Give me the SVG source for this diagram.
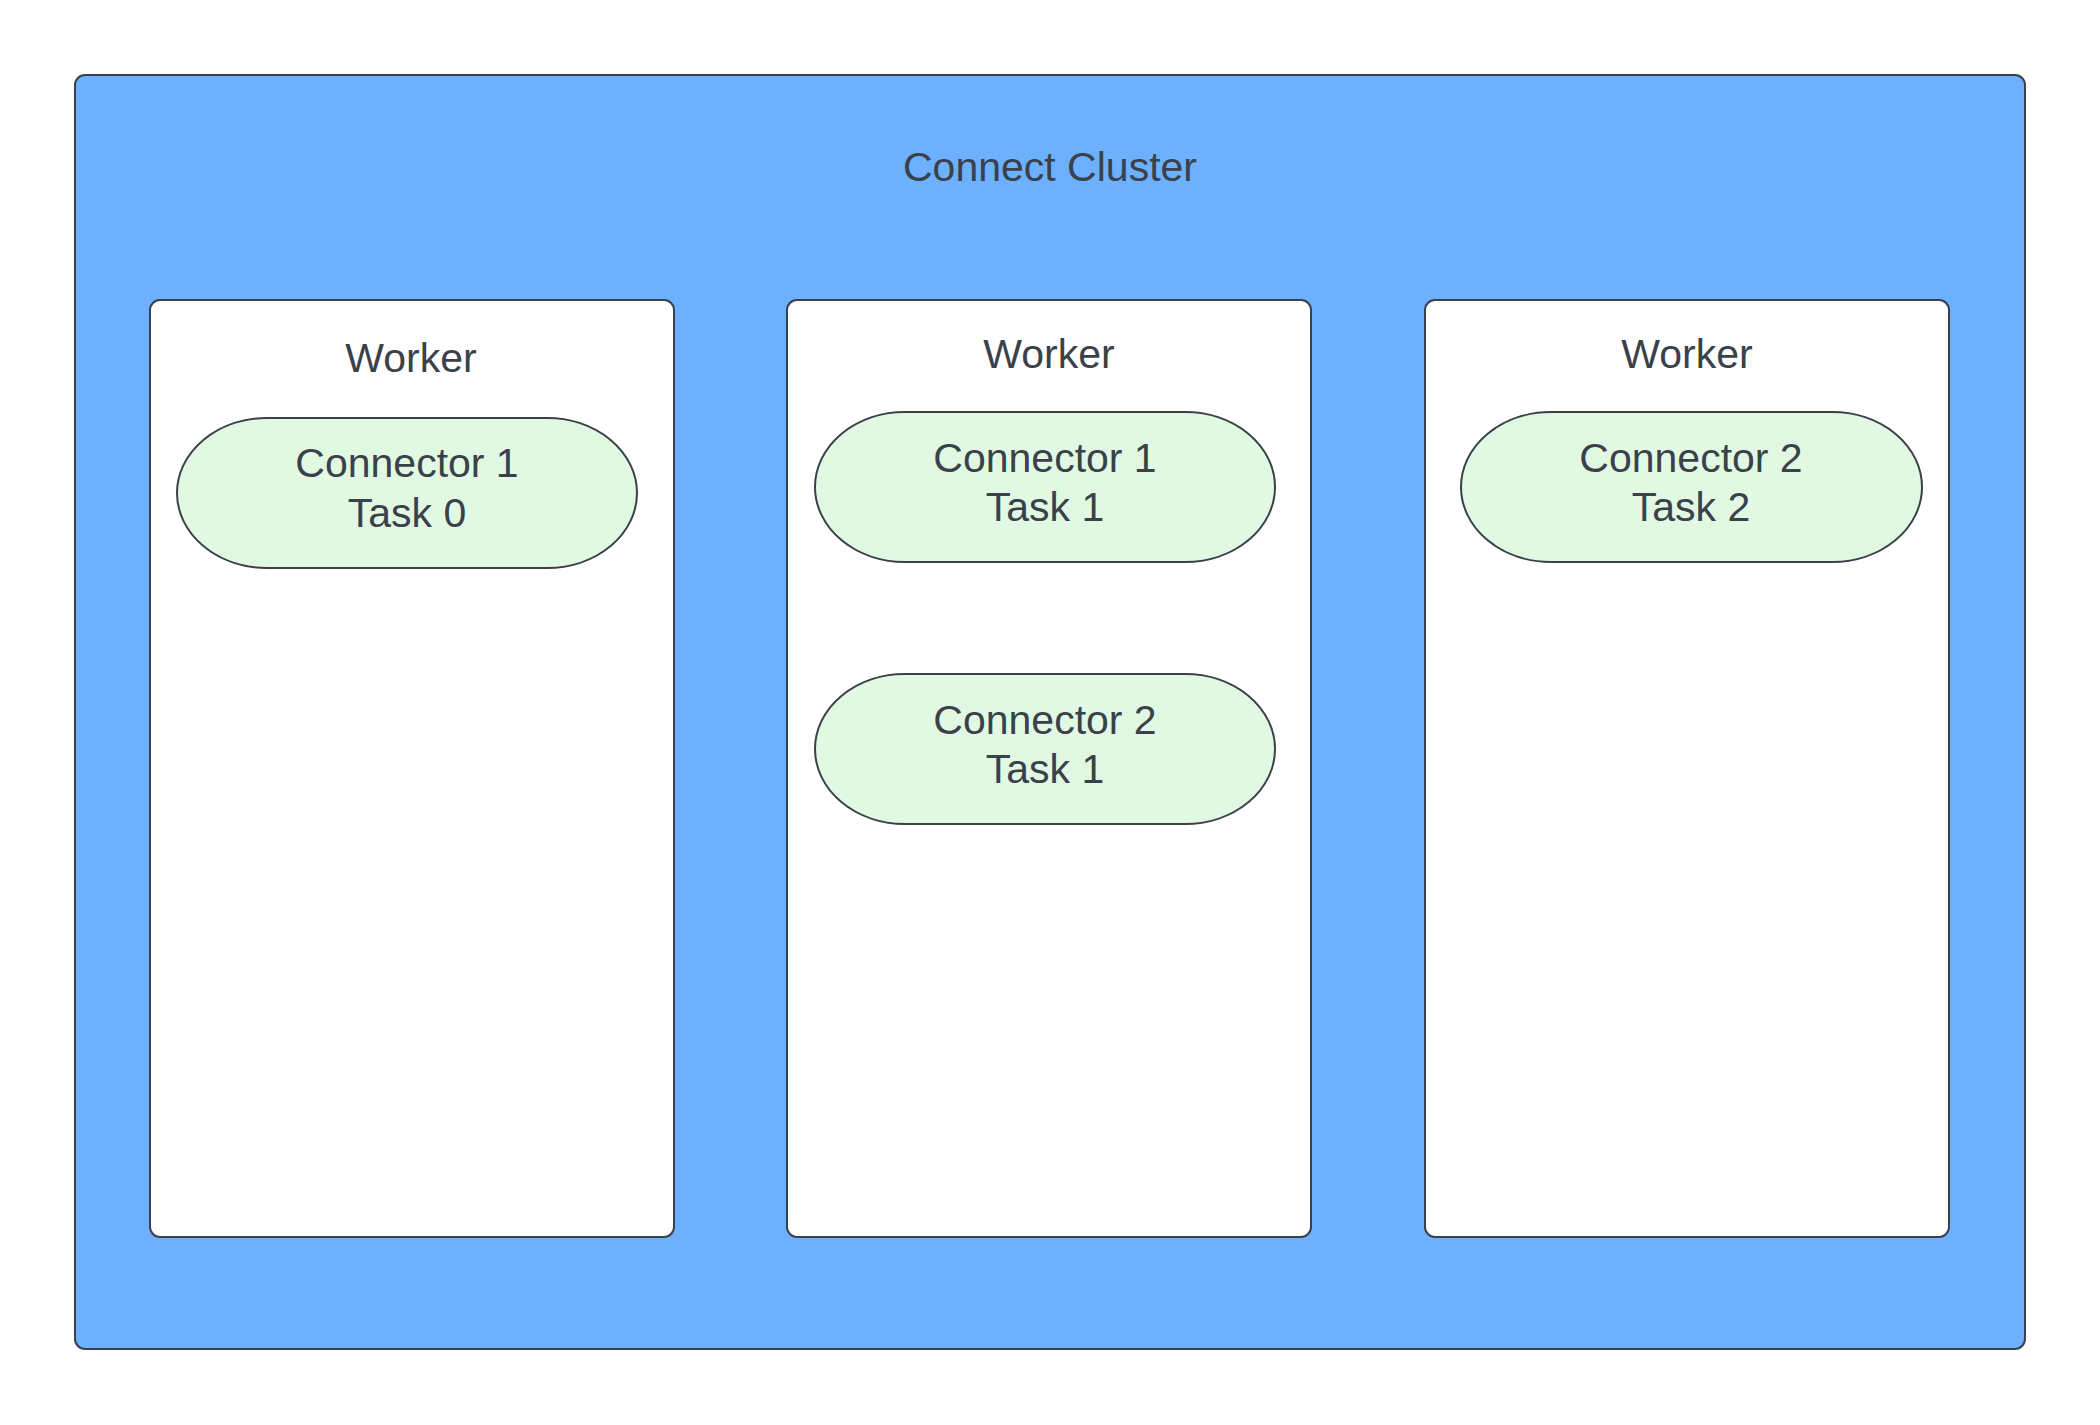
<svg xmlns="http://www.w3.org/2000/svg" width="2100" height="1425" viewBox="0 0 2100 1425">
<style>
.cluster{fill:#6db0ff;stroke:#3a414a;stroke-width:2}
.worker{fill:#ffffff;stroke:#3a414a;stroke-width:2}
.task{fill:#e1f9e2;stroke:#3a414a;stroke-width:2}
text{font-family:"Liberation Sans",Arial,sans-serif;font-size:41px;fill:#3a414a;text-anchor:middle}
</style>
<rect width="2100" height="1425" fill="#ffffff"/>
<g id="cluster">
<rect class="cluster" x="75" y="75" width="1950" height="1274" rx="10" ry="10"/>
<text x="1050" y="181">Connect Cluster</text>
</g>
<g id="worker1">
<rect class="worker" x="150" y="300" width="524" height="937" rx="10" ry="10"/>
<text x="411" y="372">Worker</text>
</g>
<g id="worker2">
<rect class="worker" x="787" y="300" width="524" height="937" rx="10" ry="10"/>
<text x="1049" y="368">Worker</text>
</g>
<g id="worker3">
<rect class="worker" x="1425" y="300" width="524" height="937" rx="10" ry="10"/>
<text x="1687" y="368">Worker</text>
</g>
<g id="task-c1t0">
<rect class="task" x="177" y="418" width="460" height="150" rx="90" ry="75"/>
<text x="407" y="477">Connector 1</text>
<text x="407" y="527">Task 0</text>
</g>
<g id="task-c1t1">
<rect class="task" x="815" y="412" width="460" height="150" rx="90" ry="75"/>
<text x="1045" y="472">Connector 1</text>
<text x="1045" y="521">Task 1</text>
</g>
<g id="task-c2t1">
<rect class="task" x="815" y="674" width="460" height="150" rx="90" ry="75"/>
<text x="1045" y="734">Connector 2</text>
<text x="1045" y="783">Task 1</text>
</g>
<g id="task-c2t2">
<rect class="task" x="1461" y="412" width="461" height="150" rx="90" ry="75"/>
<text x="1691" y="472">Connector 2</text>
<text x="1691" y="521">Task 2</text>
</g>
<g id="connectors"></g>
</svg>
